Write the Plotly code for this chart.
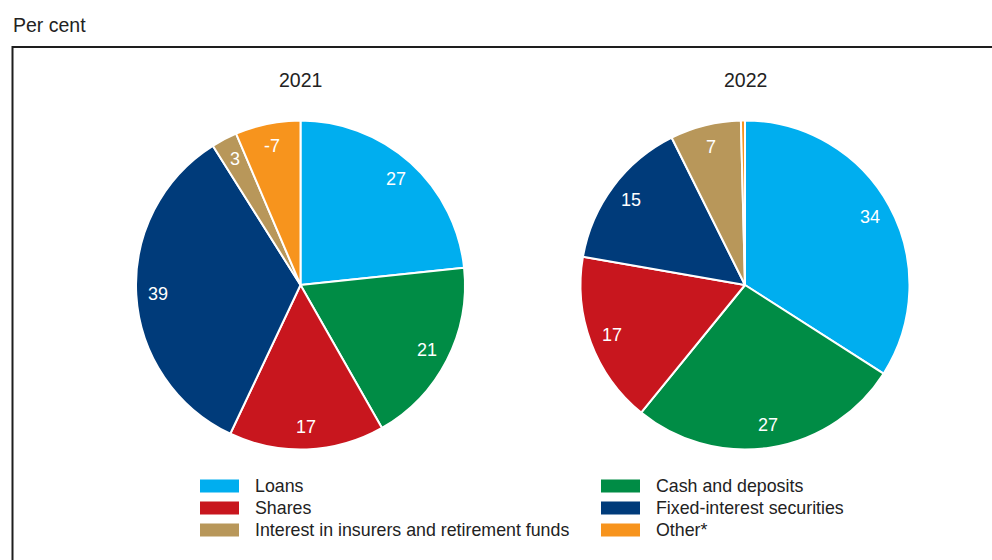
import math
import plotly.graph_objects as go

categories = ["Loans", "Cash and deposits", "Shares", "Fixed-interest securities",
              "Interest in insurers and retirement funds", "Other*"]
colors = ["#00AEEF", "#008C45", "#C8161E", "#003B7A", "#B8975A", "#F7941D"]
years = ["2021", "2022"]
# slice sizes (absolute shares); displayed labels are the rounded published values
values_2021 = [26.6, 21.0, 17.4, 38.8, 2.9, 7.3]
values_2022 = [34.3, 27.0, 17.0, 15.0, 7.0, 0.4]
labels_2021 = ["27", "21", "17", "39", "3", "-7"]
labels_2022 = ["34", "27", "17", "15", "7", ""]

W, H = 992, 560
font = "Liberation Sans, Arial, sans-serif"
txt = "#222222"

fig = go.Figure()
annotations = []

R = 164.5
CY = 285
LABEL_R = 0.865  # fraction of radius for slice labels


def add_pie(vals, texts, cx, name):
    fig.add_trace(go.Pie(
        labels=categories, values=vals, text=texts,
        textinfo="none", sort=False, direction="clockwise", rotation=0,
        marker=dict(colors=colors, line=dict(color="white", width=2)),
        domain=dict(x=[(cx - R) / W, (cx + R) / W], y=[1 - (CY + R) / H, 1 - (CY - R) / H]),
        showlegend=False, hoverinfo="label+text", name=name,
    ))
    total = sum(vals)
    cum = 0.0
    for v, t in zip(vals, texts):
        mid = (cum + v / 2) / total * 2 * math.pi
        cum += v
        if not t:
            continue
        x = cx + LABEL_R * R * math.sin(mid)
        y = CY - LABEL_R * R * math.cos(mid)
        annotations.append(dict(text=t, x=x / W, y=1 - y / H, xref="paper", yref="paper",
                                xanchor="center", yanchor="middle", showarrow=False,
                                font=dict(size=18, color="white", family=font)))


add_pie(values_2021, labels_2021, 300.5, years[0])
add_pie(values_2022, labels_2022, 745, years[1])

annotations += [
    dict(text="Per cent", x=11 / W, y=1 - 25 / H, xref="paper", yref="paper",
         xanchor="left", yanchor="middle", showarrow=False,
         font=dict(size=19.5, color=txt, family=font)),
    dict(text=years[0], x=300.5 / W, y=1 - 80 / H, xref="paper", yref="paper",
         xanchor="center", yanchor="middle", showarrow=False,
         font=dict(size=19.5, color=txt, family=font)),
    dict(text=years[1], x=745 / W, y=1 - 80 / H, xref="paper", yref="paper",
         xanchor="center", yanchor="middle", showarrow=False,
         font=dict(size=19.5, color=txt, family=font)),
]
shapes = [
    dict(type="rect", xref="paper", yref="paper", x0=12.5 / W, x1=1.1, y0=-0.1, y1=1 - 47 / H,
         line=dict(color="#1e1e1e", width=2), fillcolor="rgba(0,0,0,0)", layer="below"),
]

# manual legend in two columns, rows ordered Loans|Cash, Shares|Fixed, Interest|Other
col_x = [200, 601]
row_y = [486, 508, 530]
for i, (cat, col) in enumerate(zip(categories, colors)):
    c = i % 2
    r = i // 2
    x0 = col_x[c]
    yc = row_y[r]
    shapes.append(dict(type="rect", xref="paper", yref="paper",
                       x0=x0 / W, x1=(x0 + 39) / W, y0=1 - (yc + 6.5) / H, y1=1 - (yc - 6.5) / H,
                       line=dict(width=0), fillcolor=col))
    annotations.append(dict(text=cat, x=(x0 + 53) / W, y=1 - yc / H, xref="paper", yref="paper",
                            xanchor="left", yanchor="middle", showarrow=False,
                            font=dict(size=17.8, color=txt, family=font)))

fig.update_layout(
    width=W, height=H, margin=dict(l=0, r=0, t=0, b=0),
    paper_bgcolor="white", plot_bgcolor="white",
    annotations=annotations, shapes=shapes, showlegend=False,
)

fig.write_html("out.html")
